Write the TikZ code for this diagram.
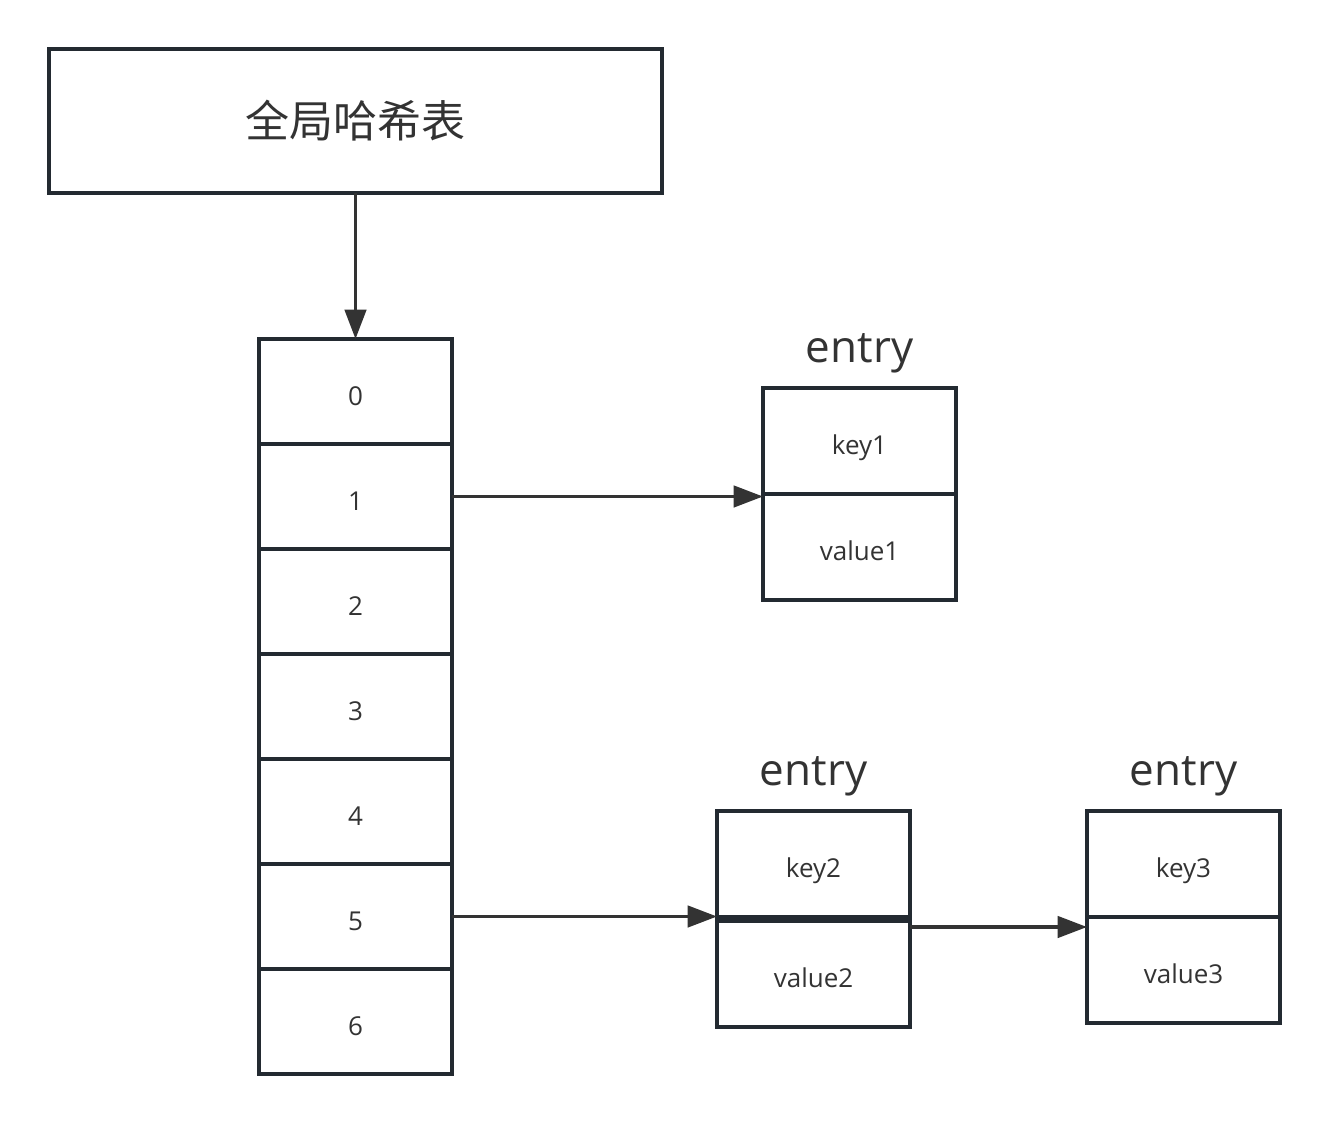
\documentclass[tikz,border=0pt]{standalone}
\usepackage{fontspec}
\setmainfont{Open Sans}
\newfontfamily\cjk{Noto Sans CJK SC}
\usetikzlibrary{arrows.meta}
\definecolor{boxline}{HTML}{232A31}
\definecolor{arrowline}{HTML}{333333}
\definecolor{txt}{HTML}{333333}

\begin{document}
\begin{tikzpicture}[x=0.75pt, y=-0.75pt, node distance=78.75pt,
                    cell/.style={rectangle,draw=boxline,line width=2.5pt,minimum width=144.75pt,minimum height=78.75pt,
                                 outer sep=0pt,text=txt,text height=22pt,text depth=1.2pt,font=\fontsize{19.5}{23}\selectfont},
                    entry cell/.style={cell,minimum height=79.5pt},
                    title/.style={text=txt,font=\fontsize{33}{40}\selectfont},
                    link/.style={draw=arrowline,line width=2.6pt,-{Triangle[length=22pt,width=16pt]}}]

  \useasboundingbox (0,0) rectangle (1334,1126);

  \node[cell,minimum width=459.75pt,minimum height=108pt,text height=,text depth=,font=\cjk\fontsize{33}{40}\selectfont] (table) at (355.5,121) {全局哈希表};

  % buckets
  \node[cell] (0) at (355.5,391.5) {0};
  \node[cell] (1) [below of=0] {1};
  \node[cell] (2) [below of=1] {2};
  \node[cell] (3) [below of=2] {3};
  \node[cell] (4) [below of=3] {4};
  \node[cell] (5) [below of=4] {5};
  \node[cell] (6) [below of=5] {6};

  % entries
  \node[entry cell] (k1) at (859.5,441) {key1};
  \node[entry cell] (v1) [below of=k1, node distance=79.5pt] {value1};
  \node[title] (e1) [above of=k1, node distance=66pt] {entry};

  \node[entry cell] (k2) at (813.5,864) {key2};
  \node[entry cell] (v2) [below of=k2, node distance=82.5pt] {value2};
  \node[title] (e2) [above of=k2, node distance=66pt] {entry};

  \node[entry cell] (k3) at (1183.5,864) {key3};
  \node[entry cell] (v3) [below of=k3, node distance=79.5pt] {value3};
  \node[title] (e3) [above of=k3, node distance=66pt] {entry};

  \draw[link] (table) -- (0);
  \draw[link] (1.east) -- (1.east -| k1.west);
  \draw[link] (5.east) -- (5.east -| k2.west);
  \draw[link] ([yshift=-4.5pt]v2.north east) -- ([yshift=-4.5pt]v2.north east -| k3.west);

\end{tikzpicture}
\end{document}
